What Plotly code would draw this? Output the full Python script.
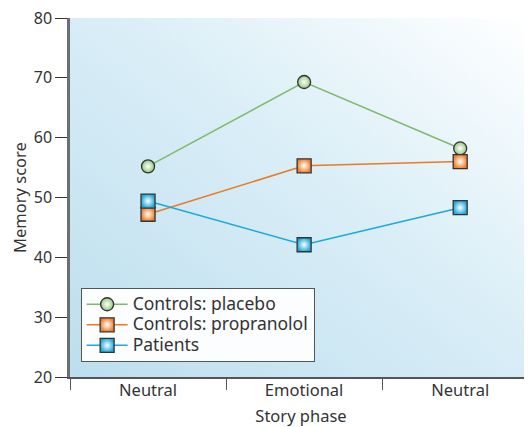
import base64
import plotly.graph_objects as go

phases = ["Neutral", "Emotional", "Neutral"]
x_pos = [0, 1, 2]
placebo = [55.2, 69.3, 58.2]
propranolol = [47.2, 55.3, 56.0]
patients = [49.4, 42.1, 48.3]
y_ticks = [20, 30, 40, 50, 60, 70, 80]

svg = """<svg xmlns='http://www.w3.org/2000/svg' width='462' height='359' viewBox='0 0 462 359' preserveAspectRatio='none'>
<defs><linearGradient id='g' x1='0' y1='1' x2='1' y2='0'>
<stop offset='0' stop-color='#bcdeee'/>
<stop offset='0.55' stop-color='#daeef7'/>
<stop offset='1' stop-color='#ffffff'/>
</linearGradient></defs>
<rect width='462' height='359' fill='url(#g)'/></svg>"""
bg_uri = "data:image/svg+xml;base64," + base64.b64encode(svg.encode()).decode()

fig = go.Figure()

def add(name, ys, line_color, fill, symbol, size):
    fig.add_trace(go.Scatter(
        x=x_pos, y=ys, mode="lines+markers",
        name="<span style='font-size:17.5px'>" + name + "</span>",
        line=dict(color=line_color, width=1.5),
        marker=dict(symbol=symbol, size=size, color=fill,
                    line=dict(color="#333333", width=1.3),
                    gradient=dict(type="radial", color="#ffffff")),
    ))

add("Controls: placebo", placebo, "#7dbb6a", "#94c87e", "circle", 13)
add("Controls: propranolol", propranolol, "#ea7a26", "#f0802c", "square", 14)
add("Patients", patients, "#1ca8d9", "#22a9dc", "square", 14)

font = "Noto Sans"
# page body has an 8px default margin, so the figure is offset by 8px
fig.update_layout(
    width=524, height=419,
    margin=dict(l=62, r=0, t=10, b=50),
    paper_bgcolor="white", plot_bgcolor="rgba(0,0,0,0)",
    font=dict(family=font, size=16, color="#333333"),
    showlegend=True,
    legend=dict(x=0.023, y=0.248, xanchor="left", yanchor="top",
                bgcolor="#fbfdfe", bordercolor="#555555", borderwidth=1,
                font=dict(size=13.5, color="#333333"), tracegroupgap=0,
                itemwidth=41),
    images=[dict(source=bg_uri, xref="paper", yref="paper", x=0, y=1,
                 sizex=1, sizey=1, sizing="stretch", layer="below",
                 xanchor="left", yanchor="top")],
)
fig.update_xaxes(
    range=[-0.5, 2.46], tickvals=x_pos, ticktext=phases, ticks="",
    showgrid=False, zeroline=False, showline=True, linecolor="#555555", linewidth=1.5,
    tickfont=dict(size=16.5, color="#333333"),
    ticklabelstandoff=-3,
    title=dict(text="Story phase", font=dict(size=16.5, color="#333333"), standoff=13),
    minor=dict(tickvals=[-0.5, 0.5, 1.5], ticks="outside", ticklen=11,
               tickcolor="#555555", tickwidth=1.2, showgrid=False),
    ticklabeloverflow="allow",
)
fig.update_yaxes(
    range=[20, 80], tickvals=y_ticks, ticks="outside", ticklen=12,
    tickcolor="#333333", tickwidth=1.2,
    showgrid=False, zeroline=False, showline=True, linecolor="#6e6e6e", linewidth=2.5,
    tickfont=dict(size=16, color="#333333"),
    title=dict(text="Memory score", font=dict(size=16.5, color="#333333"), standoff=4),
    ticklabeloverflow="allow",
)

fig.write_html("out.html")
